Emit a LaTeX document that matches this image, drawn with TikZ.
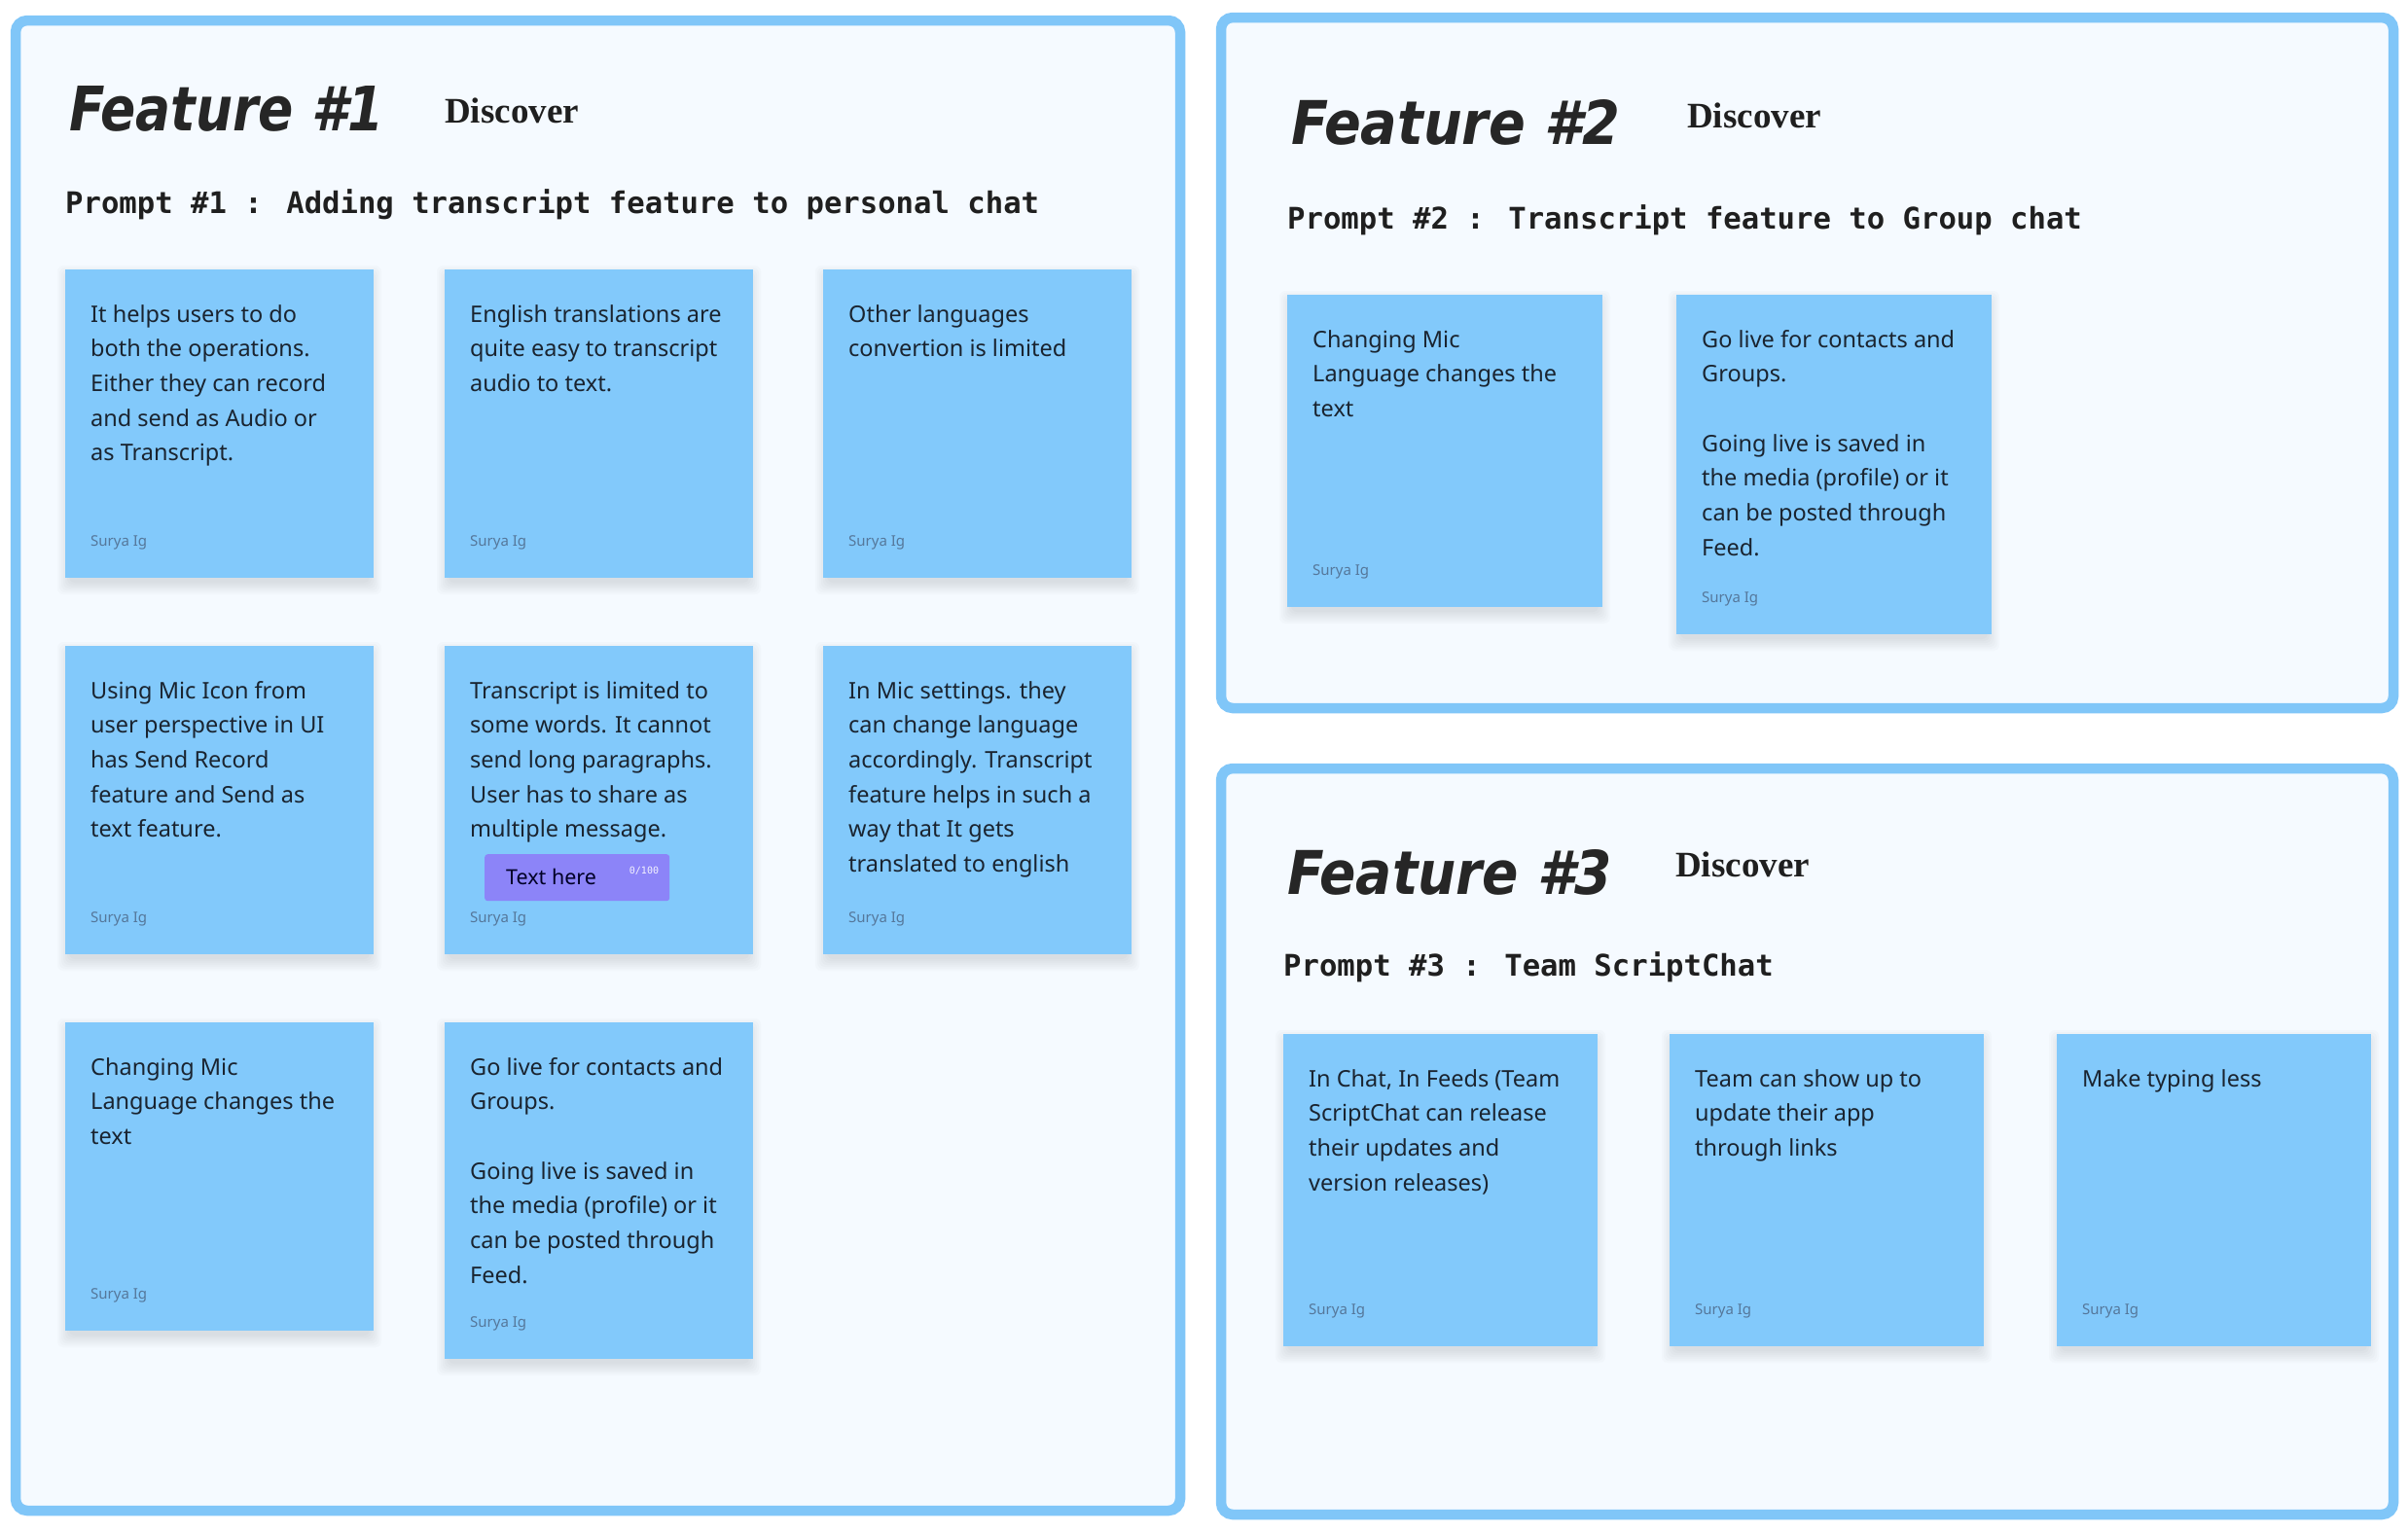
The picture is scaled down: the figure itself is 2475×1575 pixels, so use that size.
\documentclass[tikz,border=0pt]{standalone}
\usepackage{graphicx}
\usepackage{fontspec}
\setmainfont{Noto Sans}
\newfontfamily\monof{DejaVu Sans Mono}
\newfontfamily\seriff{Liberation Serif}
\newfontfamily\handf{DejaVu Sans}
\definecolor{framebd}{HTML}{80C6F8}
\definecolor{framebg}{HTML}{F5FAFF}
\definecolor{stickyc}{HTML}{82C9FB}
\definecolor{stickytxt}{HTML}{1A2430}
\definecolor{authorc}{HTML}{55779A}
\definecolor{purplebox}{HTML}{8C84F8}
\tikzset{
 featframe/.style={draw=framebd, line width=10.5pt, fill=framebg, rounded corners=12pt},
 stickybox/.style={fill=stickyc, inner sep=0pt, anchor=north west},
 shadowlayer/.style={fill=black, opacity=0.017, rounded corners=6pt},
 stickytext/.style={inner sep=0pt, anchor=base west, text=stickytxt, font=\fontsize{23.5pt}{35.7pt}\selectfont},
 author/.style={inner sep=0pt, anchor=west, text=authorc, font=\fontsize{15pt}{17pt}\selectfont},
 feattitle/.style={inner sep=0pt, anchor=south west, text=black!85},
 discover/.style={inner sep=0pt, anchor=base west, font=\seriff\bfseries\fontsize{37pt}{40pt}\selectfont, text=black!88},
 prompt/.style={inner sep=0pt, anchor=base west, font=\monof\bfseries\fontsize{30.6pt}{34pt}\selectfont, text=black!88},
}
\newcommand\notecard[6]{%
 \foreach \s in {0,2,...,12} {\fill[shadowlayer] (#2+4-\s, #3+8-\s) rectangle (#2+#4-4+\s, #3+#5+5+\s);}
 \node[stickybox, minimum width=#4pt, minimum height=#5pt] (#1) at (#2,#3) {};
 \node[stickytext] (#1-text) at ([xshift=26pt,yshift=-54pt]#1.north west) {\parbox[t]{300pt}{\raggedright #6}};
 \node[author] (#1-author) at ([xshift=26pt,yshift=37pt]#1.south west) {Surya Ig};
}
\begin{document}
\begin{tikzpicture}[x=1pt,y=-1pt]
\fill[white] (0,0) rectangle (2475,1575);
\useasboundingbox (0,0) rectangle (2475,1575);

% frames
\draw[featframe] (16,21) rectangle (1213,1553);
\draw[featframe] (1255,18) rectangle (2460,728);
\draw[featframe] (1255,790) rectangle (2460,1557);

% Feature 1
\node[feattitle] (f1title) at (71,136) {\resizebox{324pt}{46pt}{\handf\bfseries\itshape Feature \#1}};
\node[discover] (f1disc) at (457,126) {Discover};
\node[prompt] (f1prompt) at (67,219) {Prompt \#1 : Adding transcript feature to personal chat};

\notecard{n11}{67}{277}{317}{317}{It helps users to do\\both the operations.\\Either they can record\\and send as Audio or\\as Transcript.}
\notecard{n12}{457}{277}{317}{317}{English translations are\\quite easy to transcript\\audio to text.}
\notecard{n13}{846}{277}{317}{317}{Other languages\\convertion is limited}
\notecard{n21}{67}{664}{317}{317}{Using Mic Icon from\\user perspective in UI\\has Send Record\\feature and Send as\\text feature.}
\notecard{n22}{457}{664}{317}{317}{Transcript is limited to\\some words. It cannot\\send long paragraphs.\\User has to share as\\multiple message.}
\notecard{n23}{846}{664}{317}{317}{In Mic settings. they\\can change language\\accordingly. Transcript\\feature helps in such a\\way that It gets\\translated to english}
\notecard{n31}{67}{1051}{317}{317}{Changing Mic\\Language changes the\\text}
\notecard{n32}{457}{1051}{317}{346}{Go live for contacts and\\Groups.\\[35.7pt]Going live is saved in\\the media (profile) or it\\can be posted through\\Feed.}

\node[fill=purplebox, rounded corners=3pt, minimum width=190pt, minimum height=48pt, inner sep=0pt, anchor=north west] (texthere) at (498,878) {};
\node[anchor=base west, inner sep=0pt, font=\fontsize{21.5pt}{24pt}\selectfont, text=black!85!blue] (texthere-t) at (520,909) {Text here};
\node[anchor=center, inner sep=0pt, font=\monof\fontsize{10pt}{12pt}\selectfont, text=white!90!purplebox] (counter) at (662,895) {0/100};

% Feature 2
\node[feattitle] (f2title) at (1327,150) {\resizebox{338pt}{46pt}{\handf\bfseries\itshape Feature \#2}};
\node[discover] (f2disc) at (1734,131) {Discover};
\node[prompt] (f2prompt) at (1323,235) {Prompt \#2 : Transcript feature to Group chat};

\notecard{m1}{1323}{303}{324}{321}{Changing Mic\\Language changes the\\text}
\notecard{m2}{1723}{303}{324}{349}{Go live for contacts and\\Groups.\\[35.7pt]Going live is saved in\\the media (profile) or it\\can be posted through\\Feed.}

% Feature 3
\node[feattitle] (f3title) at (1323,921) {\resizebox{334pt}{46pt}{\handf\bfseries\itshape Feature \#3}};
\node[discover] (f3disc) at (1722,901) {Discover};
\node[prompt] (f3prompt) at (1319,1003) {Prompt \#3 : Team ScriptChat};

\notecard{k1}{1319}{1063}{323}{321}{In Chat, In Feeds (Team\\ScriptChat can release\\their updates and\\version releases)}
\notecard{k2}{1716}{1063}{323}{321}{Team can show up to\\update their app\\through links}
\notecard{k3}{2114}{1063}{323}{321}{Make typing less}
\end{tikzpicture}
\end{document}
